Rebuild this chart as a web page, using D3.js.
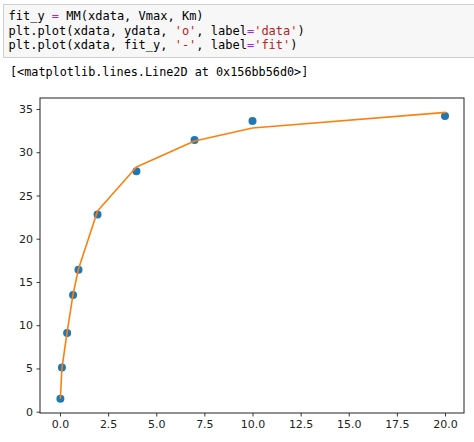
<!DOCTYPE html>
<html><head><meta charset="utf-8">
<script src="https://cdn.jsdelivr.net/npm/d3@7"></script>
<style>
body{margin:0;background:#fff;}
svg{display:block;}
</style></head>
<body><svg id="c" width="474" height="442"></svg>
<script>
const codeLines = [
  [["fit_y ", "#000"], ["=", "#aa22ff"], [" MM(xdata, Vmax, Km)", "#000"]],
  [["plt.plot(xdata, ydata, ", "#000"], ["'o'", "#ba2121"], [", label", "#000"], ["=", "#aa22ff"], ["'data'", "#ba2121"], [")", "#000"]],
  [["plt.plot(xdata, fit_y, ", "#000"], ["'-'", "#ba2121"], [", label", "#000"], ["=", "#aa22ff"], ["'fit'", "#ba2121"], [")", "#000"]]
];
const outputText = "[<matplotlib.lines.Line2D at 0x156bb56d0>]";

const xdata = [0.02, 0.1, 0.37, 0.68, 0.96, 1.95, 3.97, 6.99, 10.0, 20.0];
const ydata = [1.5, 5.1, 9.1, 13.5, 16.4, 22.8, 27.8, 31.4, 33.6, 34.2];
const fitY  = [1.6, 5.0, 9.2, 13.6, 16.5, 23.2, 28.3, 31.3, 32.8, 34.6];
const xTicks = [0, 2.5, 5, 7.5, 10, 12.5, 15, 17.5, 20];
const yTicks = [0, 5, 10, 15, 20, 25, 30, 35];

const svg = d3.select("#c");

// code cell
svg.append("rect").attr("x", 3.5).attr("y", 4.5).attr("width", 475).attr("height", 53)
  .attr("fill", "#f7f7f7").attr("stroke", "#cfcfcf").attr("stroke-width", 1);
const mono = "'DejaVu Sans Mono', monospace";
codeLines.forEach((parts, i) => {
  const t = svg.append("text").attr("x", 8.5).attr("y", 20 + i * 14.6)
    .attr("font-family", mono).attr("font-size", 12).attr("xml:space", "preserve");
  parts.forEach(p => t.append("tspan").attr("fill", p[1]).text(p[0]));
});
svg.append("text").attr("x", 10).attr("y", 76).attr("font-family", mono)
  .attr("font-size", 11.8).attr("fill", "#000").text(outputText);

// axes
const L = 40, R = 464, T = 98, B = 413;
const x = d3.scaleLinear().domain([-1.039, 20.987]).range([L, R]);
const y = d3.scaleLinear().domain([-0.15, 36.27]).range([B, T]);

const font = "'DejaVu Sans', sans-serif";
const gx = svg.append("g").attr("transform", `translate(0,${B})`)
  .call(d3.axisBottom(x).tickValues(xTicks).tickFormat(d3.format(".1f")).tickSize(3.5).tickPadding(3.5));
const gy = svg.append("g").attr("transform", `translate(${L},0)`)
  .call(d3.axisLeft(y).tickValues(yTicks).tickFormat(d3.format("d")).tickSize(3.5).tickPadding(3.5));
[gx, gy].forEach(g => {
  g.select(".domain").remove();
  g.selectAll("line").attr("stroke", "#222").attr("stroke-width", 0.9);
  g.selectAll("text").attr("font-family", font).attr("font-size", 11).attr("fill", "#222");
});

const plot = svg.append("g");
plot.selectAll("circle").data(xdata).join("circle")
  .attr("cx", d => x(d)).attr("cy", (d, i) => y(ydata[i])).attr("r", 4)
  .attr("fill", "#1f77b4");
plot.append("path").datum(xdata)
  .attr("d", d3.line().x(d => x(d)).y((d, i) => y(fitY[i])))
  .attr("fill", "none").attr("stroke", "#ff7f0e").attr("stroke-width", 1.6)
  .attr("stroke-linejoin", "round").attr("stroke-linecap", "square");

svg.append("rect").attr("x", L).attr("y", T).attr("width", R - L).attr("height", B - T)
  .attr("fill", "none").attr("stroke", "#222").attr("stroke-width", 1);
</script></body></html>
